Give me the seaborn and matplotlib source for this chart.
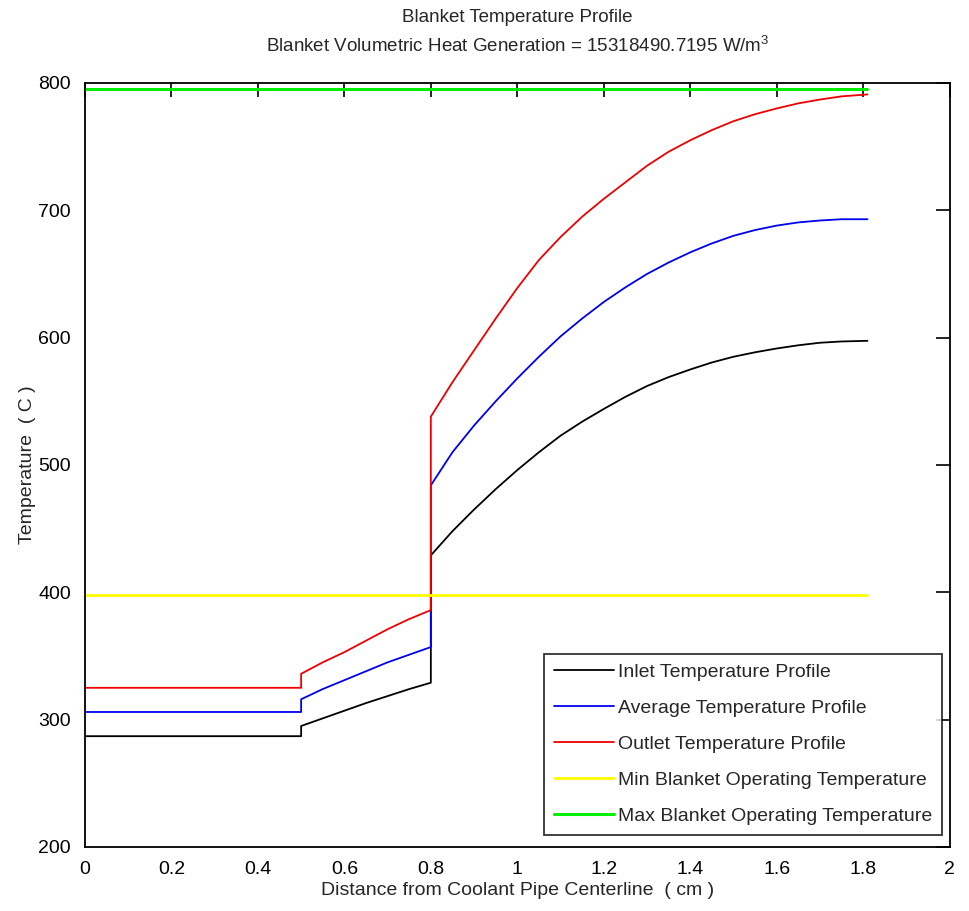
import matplotlib
matplotlib.use("Agg")
import matplotlib.pyplot as plt
import seaborn as sns
import pandas as pd

# distance from coolant pipe centerline (cm), with repeated points at the steps
dist = [0.0, 0.5, 0.5, 0.55, 0.6, 0.65, 0.7, 0.75, 0.8, 0.8, 0.85, 0.9, 0.95,
        1.0, 1.05, 1.1, 1.15, 1.2, 1.25, 1.3, 1.35, 1.4, 1.45, 1.5, 1.55,
        1.6, 1.65, 1.7, 1.75, 1.81]

inlet = [287, 287, 295, 301, 307, 313, 318.5, 324, 329, 429, 448, 465, 481,
         496, 510, 523, 534, 544, 553.5, 562, 569, 575, 580.5, 585, 588.5,
         591.5, 594, 596, 597, 597.5]
average = [306, 306, 316, 324, 331, 338, 345, 351, 357, 484, 510, 531, 550,
           568, 585, 601, 615, 628, 639.5, 650, 659, 667, 674, 680, 684.5,
           688, 690.5, 692, 693, 693]
outlet = [325, 325, 336, 345, 353, 362, 371, 379, 386, 538, 565, 590, 615,
          639, 661, 679, 695, 709, 722, 735, 746, 755, 763, 770, 775.5,
          780, 784, 787, 789.5, 791]

limit_x = [0.0, 1.81]
min_temp = [398, 398]
max_temp = [795, 795]

labels = ["Inlet Temperature Profile", "Average Temperature Profile",
          "Outlet Temperature Profile", "Min Blanket Operating Temperature",
          "Max Blanket Operating Temperature"]
colors = ["black", "#0000ee", "#ee0000", "#ffff00", "#00ee00"]

x_ticks = [0, 0.2, 0.4, 0.6, 0.8, 1, 1.2, 1.4, 1.6, 1.8, 2]
y_ticks = [200, 300, 400, 500, 600, 700, 800]

sns.set_style("white")
plt.rcParams['font.family'] = ['Liberation Sans', 'DejaVu Sans']
plt.rcParams['mathtext.fontset'] = 'custom'
plt.rcParams['mathtext.rm'] = 'Liberation Sans'

fig = plt.figure(figsize=(9.69, 9.11), dpi=100)
ax = fig.add_axes([0.0877, 0.0703, 0.8923, 0.8386])

profiles = pd.DataFrame({"dist": dist, "inlet": inlet, "average": average, "outlet": outlet})
for col, lab, c in zip(["inlet", "average", "outlet"], labels[:3], colors[:3]):
    sns.lineplot(data=profiles, x="dist", y=col, sort=False, estimator=None,
                 ax=ax, color=c, lw=1.3, label=lab)

sns.lineplot(x=limit_x, y=min_temp, ax=ax, color=colors[3], lw=2, label=labels[3])
sns.lineplot(x=limit_x, y=max_temp, ax=ax, color=colors[4], lw=2.2, label=labels[4])

ax.set_xlim(0, 2)
ax.set_ylim(200, 800)
ax.set_xticks(x_ticks)
ax.set_xticklabels([str(t) for t in x_ticks])
ax.set_yticks(y_ticks)
ax.tick_params(direction='in', length=10, width=1.2, top=True, right=True,
               labelsize=14, colors='black', pad=10)
for s in ax.spines.values():
    s.set_color('black')
    s.set_linewidth(1.3)

ax.set_xlabel("Distance from Coolant Pipe Centerline  ( cm )", fontsize=14, labelpad=3)
ax.set_ylabel("Temperature  ( C )", fontsize=14, labelpad=2)
ax.set_title("Blanket Temperature Profile\nBlanket Volumetric Heat Generation = 15318490.7195 W/m$^3$",
             fontsize=13.5, linespacing=1.6, pad=22)

leg = ax.legend(loc='lower right', bbox_to_anchor=(0.991, 0.0157), borderaxespad=0,
                fontsize=14, frameon=True, fancybox=False, edgecolor='black',
                handlelength=3.1, handletextpad=0.2, labelspacing=0.95,
                borderpad=0.5)
leg.get_frame().set_linewidth(1.3)

fig.savefig("out.png", dpi=100)
